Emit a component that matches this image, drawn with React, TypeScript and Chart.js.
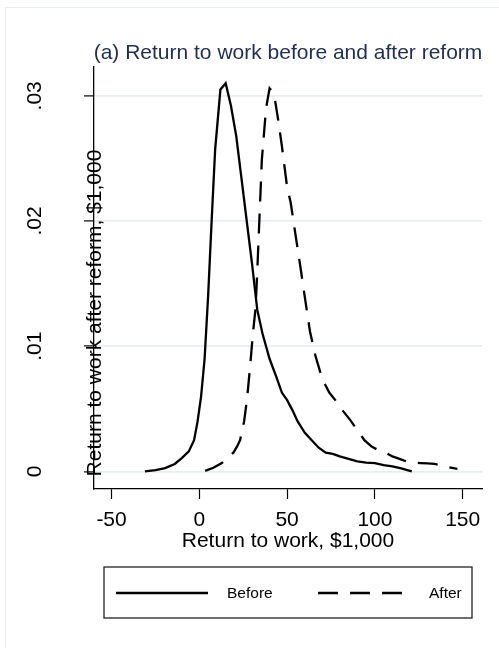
import React, { useEffect, useRef } from "react";
import { Chart, registerables } from "chart.js";

Chart.register(...registerables);

const FONT = "'Liberation Sans', Arial, Helvetica, sans-serif";

const chartTitle = "(a) Return to work before and after reform";
const xAxisTitle = "Return to work, $1,000";
const yAxisTitle = "Return to work after reform, $1,000";
const seriesNames = ["Before", "After"];

const xTicks = [-50, 0, 50, 100, 150];
const yTicks = [0, 0.01, 0.02, 0.03];
const yTickLabels = ["0", ".01", ".02", ".03"];

const beforeX = [-31, -25, -19.5, -14, -10, -6, -3, -1, 1, 3, 5, 7, 9, 12, 15, 18, 21, 24, 27, 30, 33, 36, 40, 44, 47, 50, 53, 56, 60, 64, 68, 72, 76, 80, 85, 90, 95, 100, 105, 110, 115, 121];
const beforeY = [0.0, 0.0001, 0.00027, 0.0006, 0.00107, 0.0016, 0.0025, 0.004, 0.006, 0.009, 0.014, 0.02, 0.0257, 0.0305, 0.031, 0.0292, 0.0268, 0.0234, 0.02, 0.0166, 0.0129, 0.011, 0.009, 0.0075, 0.0063, 0.0057, 0.0049, 0.004, 0.0031, 0.0025, 0.0019, 0.0015, 0.0014, 0.0012, 0.001, 0.0008, 0.0007, 0.00067, 0.0005, 0.0004, 0.00025, 0.0];

const afterX = [3.3, 8, 12.8, 16, 19.4, 21.5, 23.2, 25.5, 27.1, 29, 30.5, 32, 33, 35.6, 38, 40, 42.5, 45, 47, 50, 52, 55, 57.5, 60, 63, 66, 70, 74, 78, 82, 86, 90, 94, 98, 102, 106, 110, 114, 118, 122, 126, 130, 134, 140, 147];
const afterY = [0.00005, 0.0003, 0.00067, 0.0011, 0.0015, 0.002, 0.0025, 0.004, 0.0057, 0.0085, 0.011, 0.013, 0.016, 0.0249, 0.029, 0.0306, 0.0302, 0.028, 0.026, 0.0227, 0.0215, 0.0187, 0.0164, 0.014, 0.0112, 0.0093, 0.0074, 0.0063, 0.0056, 0.0048, 0.0041, 0.0033, 0.0025, 0.002, 0.0017, 0.0015, 0.0012, 0.001, 0.0008, 0.0007, 0.00067, 0.00065, 0.0006, 0.0004, 0.0002];

const DASH = [20, 12];

const overlayPlugin = {
  id: "stataOverlay",
  afterDraw(chart: any) {
    const ctx = chart.ctx;
    const area = chart.chartArea;
    ctx.save();
    // chart title
    ctx.font = `21px ${FONT}`;
    ctx.fillStyle = "#1e2d55";
    ctx.textAlign = "center";
    ctx.textBaseline = "alphabetic";
    ctx.fillText(chartTitle, (area.left + area.right) / 2, 58.5);

    // y-axis title (rotated, overlapping axis as in reference)
    ctx.save();
    ctx.translate(100.5, 313);
    ctx.rotate(-Math.PI / 2);
    ctx.fillStyle = "#000";
    ctx.textAlign = "center";
    ctx.textBaseline = "alphabetic";
    ctx.fillText(yAxisTitle, 0, 0);
    ctx.restore();

    // legend box
    const bx = 104, by = 567, bw = 368, bh = 51;
    ctx.strokeStyle = "#222";
    ctx.lineWidth = 1.3;
    ctx.strokeRect(bx, by, bw, bh);
    const ly = 593;
    ctx.strokeStyle = "#000";
    ctx.lineWidth = 2.3;
    ctx.setLineDash([]);
    ctx.beginPath();
    ctx.moveTo(116, ly);
    ctx.lineTo(208, ly);
    ctx.stroke();
    ctx.setLineDash(DASH);
    ctx.beginPath();
    ctx.moveTo(318, ly);
    ctx.lineTo(402, ly);
    ctx.stroke();
    ctx.setLineDash([]);
    ctx.font = `15.5px ${FONT}`;
    ctx.fillStyle = "#000";
    ctx.textAlign = "left";
    ctx.textBaseline = "middle";
    ctx.fillText(seriesNames[0], 227, ly + 1);
    ctx.fillText(seriesNames[1], 429, ly + 1);
    ctx.restore();
  },
};

export default function App() {
  const ref = useRef<HTMLCanvasElement | null>(null);

  useEffect(() => {
    if (!ref.current) return;
    Chart.defaults.font.family = FONT;
    Chart.defaults.color = "#000";
    const chart = new Chart(ref.current, {
      type: "scatter",
      data: {
        datasets: [
          {
            label: seriesNames[0],
            data: beforeX.map((x, i) => ({ x, y: beforeY[i] })),
            showLine: true,
            borderColor: "#000",
            borderWidth: 2.3,
            pointRadius: 0,
            tension: 0,
          },
          {
            label: seriesNames[1],
            data: afterX.map((x, i) => ({ x, y: afterY[i] })),
            showLine: true,
            borderColor: "#000",
            borderWidth: 2.3,
            borderDash: DASH,
            pointRadius: 0,
            tension: 0,
          },
        ],
      },
      options: {
        animation: false,
        responsive: false,
        maintainAspectRatio: false,
        devicePixelRatio: 1,
        layout: { padding: { top: 67, right: 17, left: 0, bottom: 94 } },
        plugins: {
          legend: { display: false },
          title: { display: false },
          tooltip: { enabled: false },
        },
        scales: {
          x: {
            type: "linear",
            min: -60,
            max: 161,
            afterBuildTicks: (s: any) => {
              s.ticks = xTicks.map((v) => ({ value: v }));
            },
            afterFit: (s: any) => {
              s.height = 648 - 94 - 489;
            },
            ticks: {
              font: { size: 21, family: FONT },
              color: "#000",
              padding: 9,
              maxRotation: 0,
              minRotation: 0,
              callback: (v: any) => String(v),
            },
            grid: {
              drawOnChartArea: false,
              drawTicks: true,
              tickLength: 10,
              tickColor: "#000",
              tickWidth: 1.2,
            },
            border: { display: true, color: "#000", width: 1.3 },
            title: {
              display: true,
              text: xAxisTitle,
              font: { size: 21, family: FONT },
              color: "#000",
              padding: 0,
            },
          },
          y: {
            type: "linear",
            min: -0.0014,
            max: 0.0323,
            afterBuildTicks: (s: any) => {
              s.ticks = yTicks.map((v) => ({ value: v }));
            },
            afterFit: (s: any) => {
              s.width = 94;
            },
            ticks: {
              font: { size: 21, family: FONT },
              color: "#000",
              padding: 34,
              minRotation: 90,
              maxRotation: 90,
              crossAlign: "center",
              callback: (v: any) => {
                const i = yTicks.findIndex((t) => Math.abs(t - v) < 1e-9);
                return i >= 0 ? yTickLabels[i] : "";
              },
            },
            grid: {
              color: "#e6eef1",
              lineWidth: 1.8,
              drawTicks: true,
              tickLength: 10,
              tickColor: "#000",
              tickWidth: 1.2,
            },
            border: { display: true, color: "#000", width: 1.3 },
          },
        },
      },
      plugins: [overlayPlugin],
    } as any);
    return () => chart.destroy();
  }, []);

  return (
    <div style={{ position: "absolute", left: 0, top: 0, width: 499, height: 648, background: "#fff" }}>
      <div
        style={{
          position: "absolute",
          left: 5,
          top: 7,
          width: 520,
          height: 700,
          borderLeft: "1.5px solid #e6eef1",
          borderTop: "1.5px solid #e6eef1",
        }}
      />
      <canvas
        ref={ref}
        width={499}
        height={648}
        style={{ position: "absolute", left: 0, top: 0, width: 499, height: 648 }}
      />
    </div>
  );
}
